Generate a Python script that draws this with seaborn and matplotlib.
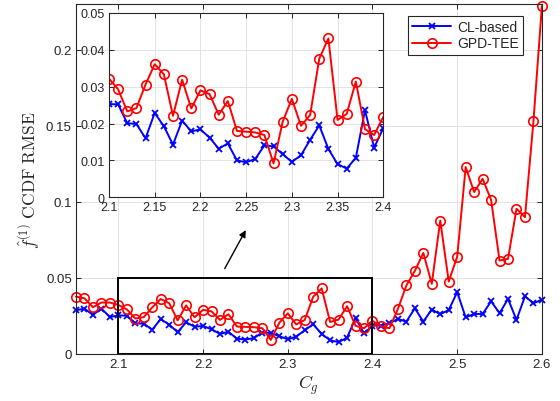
import matplotlib
matplotlib.use("Agg")
import matplotlib.pyplot as plt
import seaborn as sns
import numpy as np
import pandas as pd
from matplotlib.patches import Rectangle
from matplotlib.ticker import FuncFormatter

cg = [2.05, 2.06, 2.07, 2.08, 2.09, 2.10, 2.11, 2.12, 2.13, 2.14,
      2.15, 2.16, 2.17, 2.18, 2.19, 2.20, 2.21, 2.22, 2.23, 2.24,
      2.25, 2.26, 2.27, 2.28, 2.29, 2.30, 2.31, 2.32, 2.33, 2.34,
      2.35, 2.36, 2.37, 2.38, 2.39, 2.40, 2.41, 2.42, 2.43, 2.44,
      2.45, 2.46, 2.47, 2.48, 2.49, 2.50, 2.51, 2.52, 2.53, 2.54,
      2.55, 2.56, 2.57, 2.58, 2.59, 2.60]

cl_based = [0.0287, 0.0298, 0.0257, 0.0298, 0.0243, 0.0253, 0.0252, 0.0201, 0.0199, 0.0160,
            0.0229, 0.0193, 0.0143, 0.0208, 0.0179, 0.0184, 0.0162, 0.0132, 0.0146, 0.0100,
            0.0095, 0.0104, 0.0141, 0.0138, 0.0117, 0.0096, 0.0114, 0.0156, 0.0195, 0.0131,
            0.0090, 0.0078, 0.0107, 0.0236, 0.0135, 0.0187, 0.0186, 0.0202, 0.0230, 0.0213,
            0.0300, 0.0213, 0.0292, 0.0261, 0.0289, 0.0406, 0.0241, 0.0263, 0.0263, 0.0346,
            0.0268, 0.0362, 0.0224, 0.0379, 0.0333, 0.0357]

gpd_tee = [0.0377, 0.0366, 0.0307, 0.0338, 0.0338, 0.0322, 0.0293, 0.0233, 0.0242, 0.0306,
           0.0361, 0.0334, 0.0221, 0.0319, 0.0241, 0.0290, 0.0280, 0.0224, 0.0261, 0.0180,
           0.0178, 0.0176, 0.0169, 0.0092, 0.0205, 0.0267, 0.0194, 0.0223, 0.0376, 0.0431,
           0.0210, 0.0226, 0.0314, 0.0185, 0.0169, 0.0218, 0.0182, 0.0169, 0.0296, 0.0450,
           0.0546, 0.0664, 0.0461, 0.0877, 0.0476, 0.0640, 0.1228, 0.1064, 0.1151, 0.1013,
           0.0614, 0.0625, 0.0954, 0.0899, 0.1529, 0.2287]

series_names = ["CL-based", "GPD-TEE"]
main_xticks = [2.1, 2.2, 2.3, 2.4, 2.5, 2.6]
main_yticks = [0, 0.05, 0.1, 0.15, 0.2]
inset_xticks = [2.1, 2.15, 2.2, 2.25, 2.3, 2.35, 2.4]
inset_yticks = [0, 0.01, 0.02, 0.03, 0.04, 0.05]

sns.set_theme(style="whitegrid")
plt.rcParams['font.family'] = ['Liberation Sans', 'DejaVu Sans']
plt.rcParams['mathtext.fontset'] = 'cm'

df = pd.DataFrame({"cg": cg, series_names[0]: cl_based, series_names[1]: gpd_tee})
df_in = df[(df["cg"] >= 2.095) & (df["cg"] <= 2.405)]

fig = plt.figure(figsize=(5.6, 4.02), dpi=100)
ax = fig.add_axes([0.1357, 0.117, 0.832, 0.8706])

styles = {
    series_names[0]: dict(color=(0, 0, 1), marker='x', markersize=4.5, markeredgewidth=1.3,
                          markeredgecolor=(0, 0, 1), linewidth=1.4, linestyle='-'),
    series_names[1]: dict(color=(1, 0, 0), marker='o', markersize=6.8, markeredgewidth=1.2,
                          markeredgecolor=(1, 0, 0), markerfacecolor='none',
                          linewidth=1.4, linestyle='-'),
}

def style_axes(a, fs):
    a.set_facecolor('white')
    a.grid(True, color='#e3e3e3', linewidth=0.7)
    for s in a.spines.values():
        s.set_color('#262626')
        s.set_linewidth(0.8)
        s.set_visible(True)
    a.tick_params(direction='in', length=3.5, width=0.7, colors='#262626',
                  labelsize=fs, top=True, right=True, bottom=True, left=True,
                  labelcolor='#262626', pad=3)

for name in series_names:
    sns.lineplot(data=df, x="cg", y=name, ax=ax, label=name, clip_on=False, **styles[name])

ax.set_xlim(2.05, 2.6)
ax.set_ylim(0, 0.23)
ax.set_xticks(main_xticks)
ax.set_yticks(main_yticks)
ax.xaxis.set_major_formatter(FuncFormatter(lambda v, p: f"{v:g}"))
ax.yaxis.set_major_formatter(FuncFormatter(lambda v, p: f"{v:g}"))
style_axes(ax, 9.5)
ax.set_xlabel(r'$C_g$', fontsize=13, color='#262626', labelpad=2)
ax.set_ylabel(r'$\hat{f}^{(1)}\ \mathrm{CCDF\ RMSE}$', fontsize=12.5, color='#262626', labelpad=3)

ax.add_patch(Rectangle((2.1, 0), 0.3, 0.05, fill=False, edgecolor='black', linewidth=1.4, zorder=5))
ax.annotate('', xy=(2.252, 0.083), xytext=(2.224, 0.0545),
            arrowprops=dict(arrowstyle='-|>', color='black', lw=1.0, mutation_scale=10))

leg = ax.legend(loc='upper right', bbox_to_anchor=(0.965, 0.975), fontsize=10,
                frameon=True, fancybox=False, framealpha=1, edgecolor='#262626',
                handlelength=2.8, borderpad=0.3, labelspacing=0.2, handletextpad=0.4,
                borderaxespad=0.2)
leg.get_frame().set_linewidth(0.8)

axin = fig.add_axes([0.1946, 0.5067, 0.4898, 0.4585])
for name in series_names:
    sns.lineplot(data=df_in, x="cg", y=name, ax=axin, legend=False, **styles[name])
axin.set_xlim(2.1, 2.4)
axin.set_ylim(0, 0.05)
axin.set_xticks(inset_xticks)
axin.set_yticks(inset_yticks)
axin.xaxis.set_major_formatter(FuncFormatter(lambda v, p: f"{v:g}"))
axin.yaxis.set_major_formatter(FuncFormatter(lambda v, p: f"{v:g}"))
style_axes(axin, 9)
axin.set_xlabel('')
axin.set_ylabel('')

fig.savefig("out.png", dpi=100)
